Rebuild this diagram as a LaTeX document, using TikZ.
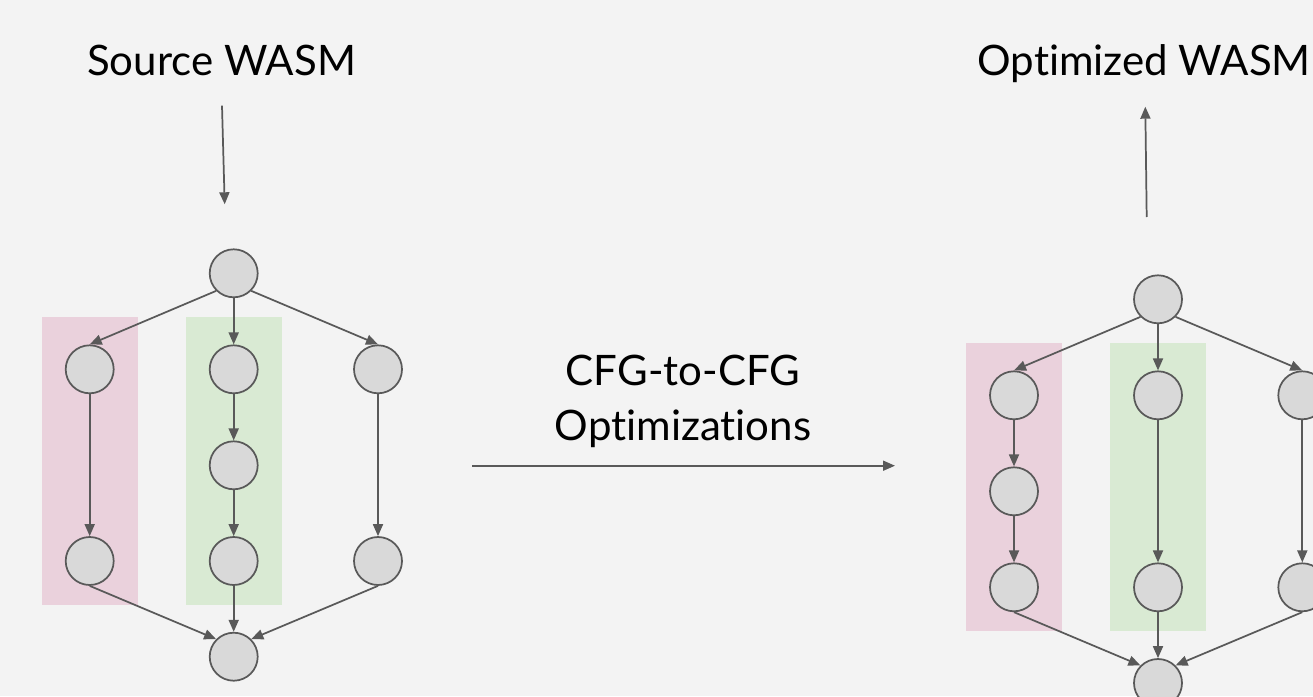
\documentclass[tikz,border=0pt]{standalone}
\usepackage{fontspec}
\setmainfont{Lato}[Ligatures=NoCommon]
\usetikzlibrary{arrows.meta}
\definecolor{bg}{HTML}{F3F3F3}
\definecolor{pinkbox}{HTML}{EAD1DC}
\definecolor{greenbox}{HTML}{D9EAD3}
\definecolor{nodefill}{HTML}{D9D9D9}
\definecolor{linec}{HTML}{595959}
\tikzset{
  blk/.style={circle,draw=linec,fill=nodefill,line width=1.3pt,minimum size=36pt,inner sep=0pt},
  edge/.style={draw=linec,line width=1.3pt,-{Triangle[length=9pt,width=7.5pt]}},
  lbl/.style={font=\fontsize{31.5}{41.25}\selectfont,text=black,inner sep=0pt},
}
\begin{document}
\begin{tikzpicture}[x=0.75pt,y=-0.75pt]
\fill[bg] (0,0) rectangle (1313,696);
\useasboundingbox (0,0) rectangle (1313,696);
% labels
\node[lbl,anchor=base] (src) at (221.5,75) {Source WASM};
\node[lbl,anchor=base east] (opt) at (1311,75) {Optimized WASM};
\node[lbl,anchor=base,align=center] (cfg) at (683,440) {CFG-to-CFG\\Optimizations};
% top arrows
\coordinate (s1) at (222,105.7);
\coordinate (s2) at (224.7,204.3);
\draw[edge] (s1) -- (s2);
\coordinate (o1) at (1146.7,217);
\coordinate (o2) at (1145.3,106.7);
\draw[edge] (o1) -- (o2);
\coordinate (h1) at (472,465.7);
\coordinate (h2) at (895,465.7);
\draw[edge] (h1) -- (h2);
% left graph
\fill[pinkbox] (42,317) rectangle (138,605);
\fill[greenbox] (186,317) rectangle (282,605);
\node[blk] (a0) at (233.7,273.3) {};
\node[blk] (aL2) at (89.7,369.3) {};
\node[blk] (aM2) at (233.7,369.3) {};
\node[blk] (aR2) at (378,369.3) {};
\node[blk] (aM3) at (233.7,465.3) {};
\node[blk] (aL4) at (89.7,561) {};
\node[blk] (aM4) at (233.7,561) {};
\node[blk] (aR4) at (378,561) {};
\node[blk] (aB) at (233.7,656.7) {};
\draw[edge] (a0.south west) -- (aL2.north);
\draw[edge] (a0.south) -- (aM2.north);
\draw[edge] (a0.south east) -- (aR2.north);
\draw[edge] (aL2.south) -- (aL4.north);
\draw[edge] (aM2.south) -- (aM3.north);
\draw[edge] (aM3.south) -- (aM4.north);
\draw[edge] (aR2.south) -- (aR4.north);
\draw[edge] (aL4.south) -- (aB.north west);
\draw[edge] (aM4.south) -- (aB.north);
\draw[edge] (aR4.south) -- (aB.north east);
% right graph
\fill[pinkbox] (966,343) rectangle (1062,631);
\fill[greenbox] (1110,343) rectangle (1206,631);
\node[blk] (b0) at (1158,299.3) {};
\node[blk] (bL2) at (1014,395.3) {};
\node[blk] (bM2) at (1158,395.3) {};
\node[blk] (bR2) at (1302.3,395.3) {};
\node[blk] (bL3) at (1014,491.3) {};
\node[blk] (bL4) at (1014,587.3) {};
\node[blk] (bM4) at (1158,587.3) {};
\node[blk] (bR4) at (1302.3,587.3) {};
\node[blk] (bB) at (1158,683) {};
\draw[edge] (b0.south west) -- (bL2.north);
\draw[edge] (b0.south) -- (bM2.north);
\draw[edge] (b0.south east) -- (bR2.north);
\draw[edge] (bL2.south) -- (bL3.north);
\draw[edge] (bL3.south) -- (bL4.north);
\draw[edge] (bM2.south) -- (bM4.north);
\draw[edge] (bR2.south) -- (bR4.north);
\draw[edge] (bL4.south) -- (bB.north west);
\draw[edge] (bM4.south) -- (bB.north);
\draw[edge] (bR4.south) -- (bB.north east);
\end{tikzpicture}
\end{document}
